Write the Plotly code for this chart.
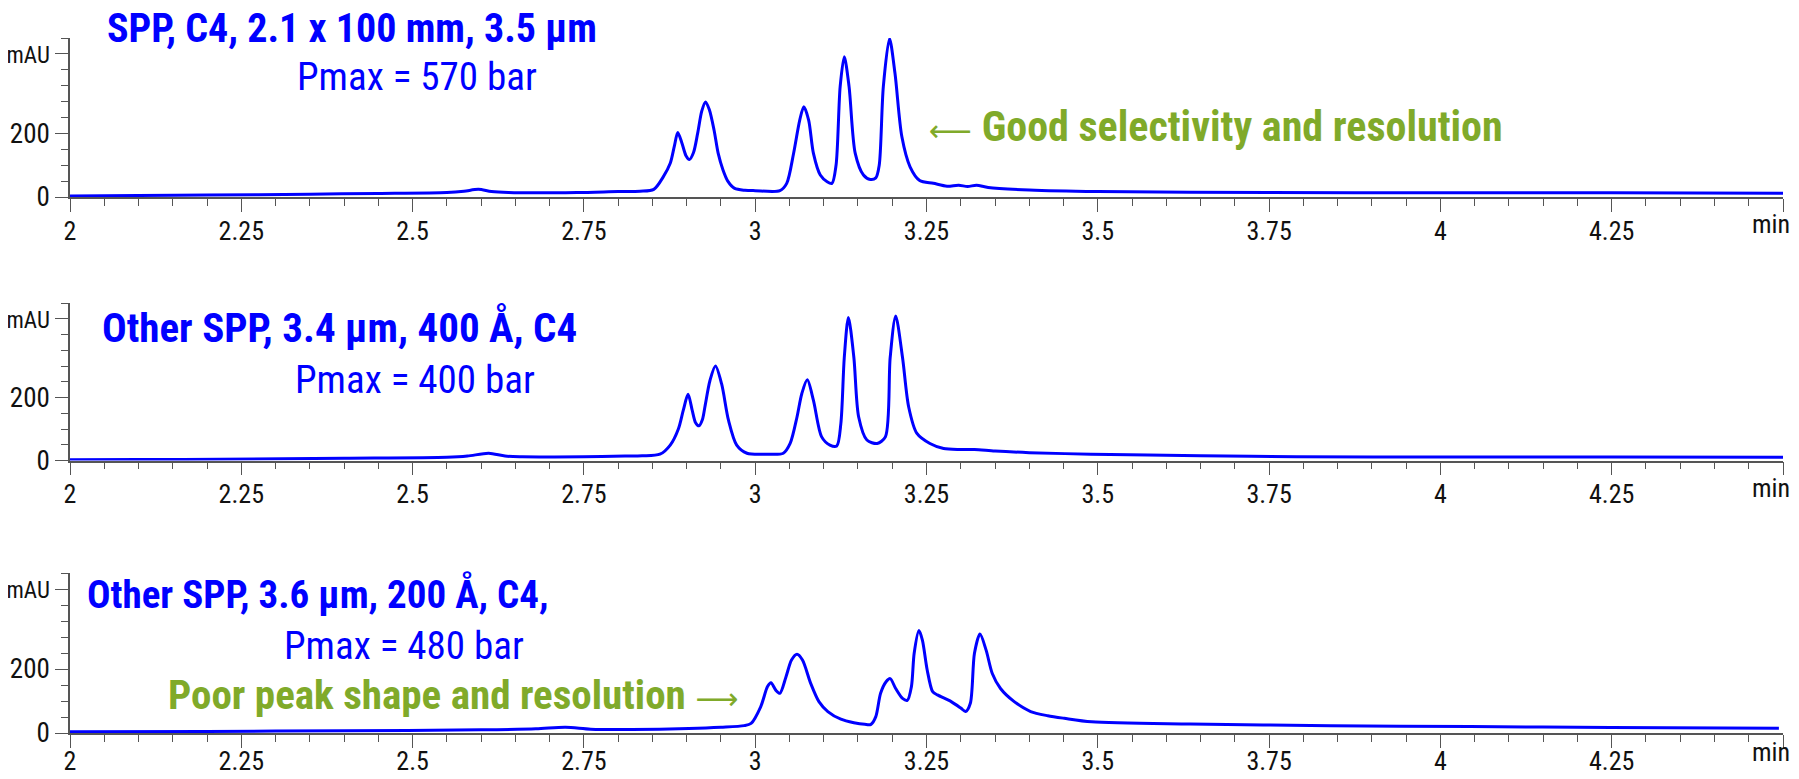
import plotly.graph_objects as go

# ---------------- data (time in min, absorbance in mAU) ----------------
p1_t = [2.00, 2.10, 2.20, 2.35, 2.45, 2.55, 2.575, 2.596, 2.615, 2.64, 2.74, 2.80, 2.832, 2.852,
        2.866, 2.876, 2.882, 2.887, 2.893, 2.899, 2.904, 2.910, 2.916, 2.922, 2.9275, 2.933, 2.940,
        2.946, 2.953, 2.960, 2.970, 2.985, 3.000, 3.036, 3.046, 3.056, 3.065, 3.071, 3.078, 3.085,
        3.095, 3.105, 3.112, 3.118, 3.124, 3.130, 3.137, 3.146, 3.158, 3.168, 3.176, 3.181, 3.187,
        3.196, 3.204, 3.214, 3.226, 3.240, 3.260, 3.280, 3.297, 3.310, 3.323, 3.34, 3.40, 3.50,
        3.75, 4.00, 4.25, 4.50]
p1_a = [3, 5, 6, 9, 11, 14, 18, 24, 17, 14, 14, 17, 18, 24,
        64, 106, 160, 203, 170, 130, 118, 140, 200, 270, 299, 275, 210,
        137, 85, 50, 27, 21, 20, 20, 43, 137, 242, 284, 242, 137,
        69, 48, 43, 100, 347, 441, 347, 137, 69, 55, 60, 100, 347,
        498, 389, 190, 95, 52, 43, 34, 37, 33, 37, 30, 22, 17,
        14, 13, 13, 12]

p2_t = [2.00, 2.10, 2.22, 2.40, 2.55, 2.58, 2.611, 2.635, 2.66, 2.75, 2.81, 2.835, 2.861, 2.876,
        2.888, 2.895, 2.902, 2.908, 2.913, 2.918, 2.923, 2.927, 2.934, 2.942, 2.951, 2.961, 2.973,
        2.988, 3.017, 3.041, 3.051, 3.061, 3.068, 3.076, 3.085, 3.097, 3.109, 3.119, 3.125, 3.130,
        3.136, 3.144, 3.151, 3.163, 3.178, 3.190, 3.197, 3.205, 3.215, 3.224, 3.236, 3.255, 3.275,
        3.299, 3.320, 3.35, 3.40, 3.49, 3.65, 3.79, 4.00, 4.25, 4.50]
p2_a = [2, 3, 4, 7, 10, 14, 23, 14, 12, 12, 14, 15, 20, 49,
        101, 159, 210, 160, 120, 110, 130, 175, 254, 300, 243, 128, 49,
        23, 20, 23, 54, 138, 212, 256, 191, 75, 49, 46, 117, 327,
        454, 327, 138, 65, 54, 75, 327, 459, 327, 170, 86, 54, 38,
        35, 35, 30, 25, 20, 15, 12, 11, 11, 10]

p3_t = [2.00, 2.20, 2.40, 2.60, 2.68, 2.723, 2.76, 2.82, 2.903, 2.95, 2.984, 2.994, 3.008, 3.018,
        3.023, 3.030, 3.036, 3.045, 3.053, 3.061, 3.069, 3.081, 3.093, 3.106, 3.125, 3.144, 3.160,
        3.169, 3.176, 3.183, 3.191, 3.197, 3.205, 3.215, 3.222, 3.228, 3.232, 3.239, 3.244, 3.251,
        3.259, 3.266, 3.286, 3.300, 3.307, 3.314, 3.320, 3.328, 3.337, 3.346, 3.358, 3.378, 3.402,
        3.427, 3.451, 3.491, 3.635, 3.84, 4.044, 4.249, 4.494]
p3_a = [4, 5, 7, 10, 13, 18, 12, 11, 14, 18, 23, 30, 82, 145,
        157, 134, 124, 176, 228, 246, 228, 155, 98, 67, 43, 32, 27,
        27, 51, 124, 160, 170, 139, 108, 102, 145, 249, 320, 290, 197,
        129, 119, 98, 78, 67, 93, 249, 309, 259, 186, 139, 98, 67,
        54, 46, 35, 28, 23, 20, 17, 15]

x_tickvals = [2, 2.25, 2.5, 2.75, 3, 3.25, 3.5, 3.75, 4, 4.25, 4.5]
x_labels = ["2", "2.25", "2.5", "2.75", "3", "3.25", "3.5", "3.75", "4", "4.25", ""]
y_tickvals = [0, 200, 450]
y_labels = ["0", "200", "mAU"]

titles = ["SPP, C4, 2.1 x 100 mm, 3.5 µm",
          "Other SPP, 3.4 µm, 400 Å, C4",
          "Other SPP, 3.6 µm, 200 Å, C4,"]
pressures = ["Pmax = 570 bar", "Pmax = 400 bar", "Pmax = 480 bar"]
notes = ["Good selectivity and resolution", "Poor peak shape and resolution"]

# ---------------- figure ----------------
W, H = 1799, 779          # browser window
M = 8                     # page body margin
FW, FH = W - 2 * M, H - 2 * M
FONT = "Roboto Condensed, Roboto, Liberation Sans, sans-serif"
ST = "font-stretch:condensed"
BLUE = "#0000ff"
GREEN = "#80aa2a"
AXC = "#555555"


def cond(s, extra=""):
    return "<span style='%s%s'>%s</span>" % (ST, extra, s)


def arrow(ch):
    return ("<span style='font-family:DejaVu Sans;font-stretch:normal;"
            "font-size:30px'>%s</span>" % ch)


def fx(px):
    return (px - M) / FW


def fy(py):
    return 1 - (py - M) / FH


x_dom = [fx(70), fx(1783)]
y_doms = [[fy(197), fy(38)], [fy(460.5), fy(303)], [fy(733), fy(573)]]
label_standoff = [-3, -3, -9]

x_ticktext = [cond(s) for s in x_labels]
y_ticktext = [cond(y_labels[0]), cond(y_labels[1]), cond(y_labels[2], ";font-size:23px")]

fig = go.Figure()
series = [(p1_t, p1_a), (p2_t, p2_a), (p3_t, p3_a)]
for i, (t, a) in enumerate(series):
    sfx = "" if i == 0 else str(i + 1)
    fig.add_trace(go.Scatter(x=t, y=a, mode="lines", xaxis="x" + sfx, yaxis="y" + sfx,
                             line=dict(color=BLUE, width=3, shape="spline", smoothing=0.8),
                             showlegend=False, hoverinfo="skip"))
    xa = dict(domain=x_dom, range=[2, 4.5], anchor="y" + sfx, showgrid=False, zeroline=False,
              automargin=False, showline=True, linecolor=AXC, linewidth=1.5,
              tickmode="array", tickvals=x_tickvals, ticktext=x_ticktext,
              ticks="outside", ticklen=13, tickwidth=1.2, tickcolor=AXC,
              ticklabelstandoff=label_standoff[i],
              tickfont=dict(family=FONT, size=26, color="#111111"),
              minor=dict(tickmode="linear", tick0=2, dtick=0.05, ticks="outside", ticklen=7,
                         tickwidth=1.2, tickcolor=AXC))
    ya = dict(domain=y_doms[i], range=[0, 500], anchor="x" + sfx, showgrid=False, zeroline=False,
              automargin=False, showline=True, linecolor=AXC, linewidth=1.5,
              tickmode="array", tickvals=y_tickvals, ticktext=y_ticktext,
              ticks="outside", ticklen=13, tickwidth=1.2, tickcolor=AXC,
              tickfont=dict(family=FONT, size=27, color="#111111"),
              minor=dict(tickmode="linear", tick0=0, dtick=50, ticks="outside", ticklen=7,
                         tickwidth=1.2, tickcolor=AXC))
    fig.update_layout(**{"xaxis" + sfx: xa, "yaxis" + sfx: ya})


def px_ann(text, cx, cy, size, color, xanchor="center", yanchor="middle"):
    fig.add_annotation(text=text, x=fx(cx), y=fy(cy), xref="paper", yref="paper",
                       xanchor=xanchor, yanchor=yanchor, showarrow=False,
                       font=dict(family=FONT, size=size, color=color))


px_ann(cond("<b>" + titles[0] + "</b>"), 352, 28, 40, BLUE)
px_ann(cond(pressures[0]), 417, 77, 39, BLUE)
px_ann(arrow("⟵") + cond(" <b>" + notes[0] + "</b>"), 927, 127, 42, GREEN, "left")
px_ann(cond("<b>" + titles[1] + "</b>"), 339, 327, 41, BLUE)
px_ann(cond(pressures[1]), 415, 380, 39, BLUE)
px_ann(cond("<b>" + titles[2] + "</b>"), 318, 594, 39, BLUE)
px_ann(cond(pressures[2]), 404, 646, 39, BLUE)
px_ann(cond("<b>" + notes[1] + "</b> ") + arrow("⟶"), 740, 695, 41, GREEN, "right")

# "min" unit labels at the end of each time axis
px_ann(cond("min"), 1771, 197 + 27, 26, "#111111")
px_ann(cond("min"), 1771, 460.5 + 27, 26, "#111111")
px_ann(cond("min"), 1771, H - M - 2, 26, "#111111", yanchor="bottom")

fig.update_layout(width=FW, height=FH, margin=dict(l=0, r=0, t=0, b=0, autoexpand=False),
                  paper_bgcolor="white", plot_bgcolor="white")

fig.write_html("out.html")
